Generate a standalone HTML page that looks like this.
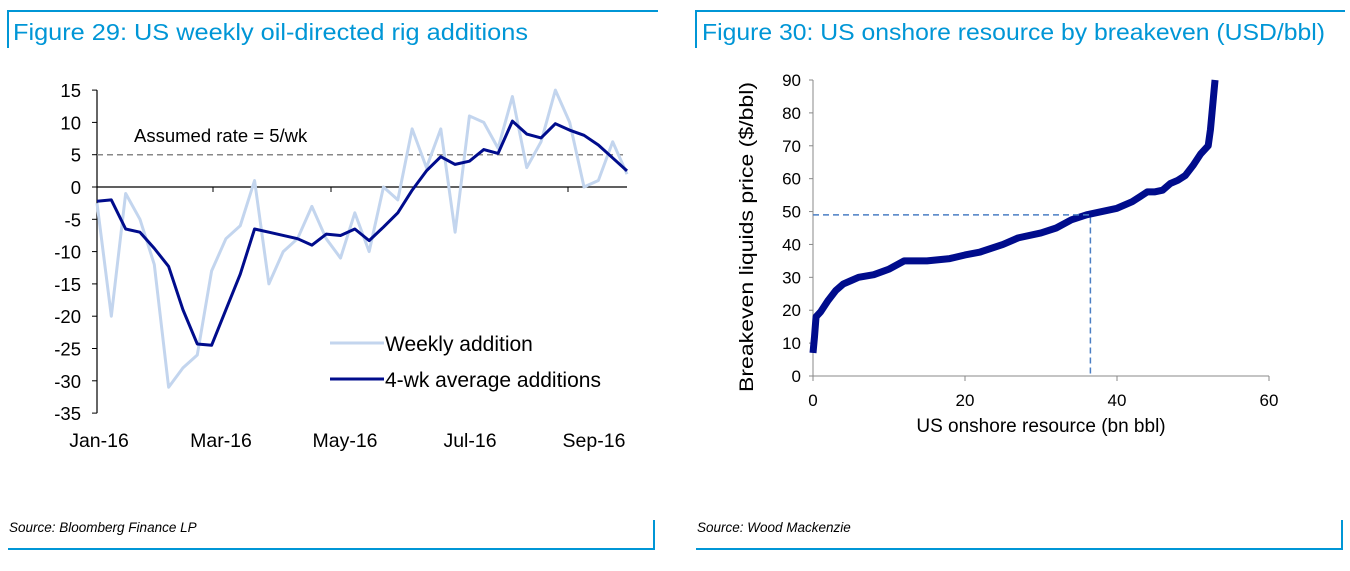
<!DOCTYPE html>
<html><head><meta charset="utf-8"><style>
body{margin:0;width:1350px;height:566px;background:#fff;overflow:hidden;font-family:"Liberation Sans",Arial,sans-serif}
svg text{font-family:"Liberation Sans",Arial,sans-serif}
</style></head><body>
<svg id="s" width="1350" height="566" viewBox="0 0 1350 566">
<g stroke="#0096d6" stroke-width="2" fill="none">
<path d="M8,48 V11 H658"/><path d="M8,549 H654 V520"/></g>
<text x="13" y="40" font-size="23" textLength="515" lengthAdjust="spacingAndGlyphs" fill="#0096d6">Figure 29: US weekly oil-directed rig additions</text>
<text x="9" y="532" font-size="13.5" font-style="italic" fill="#000">Source: Bloomberg Finance LP</text>
<g stroke="#0096d6" stroke-width="2" fill="none">
<path d="M696,48 V11 H1345"/><path d="M696,549 H1342 V520"/></g>
<text x="702" y="40" font-size="23" textLength="623" lengthAdjust="spacingAndGlyphs" fill="#0096d6">Figure 30: US onshore resource by breakeven (USD/bbl)</text>
<text x="697" y="532" font-size="13.5" font-style="italic" fill="#000">Source: Wood Mackenzie</text>
<g id="left"></g><g id="right"></g>
</svg>
<script>
const weekly=[-2.5,-20,-1,-5,-12,-31,-28,-26,-13,-8,-6,1,-15,-10,-8,-3,-8,-11,-4,-10,0,-2,9,3,9,-7,11,10,6,14,3,7,15,10,0,1,7,2];
const avg4=[-2.2,-2,-6.5,-7,-9.5,-12.3,-19,-24.3,-24.5,-19,-13.5,-6.5,-7,-7.5,-8,-9,-7.3,-7.5,-6.5,-8.3,-6.2,-4,-0.5,2.5,4.7,3.5,4,5.8,5.2,10.2,8.2,7.6,9.8,8.8,8,6.5,4.5,2.5];
const leftYTicks=[15,10,5,0,-5,-10,-15,-20,-25,-30,-35];
const leftXLabels=["Jan-16","Mar-16","May-16","Jul-16","Sep-16"];
const assumedRate=5;
const resX=[0,0.2,0.4,1,2,3,4,5,6,8,10,12,15,18,20,22,25,27,30,32,34,36,38,40,42,43,44,45,46,47,48,49,50,51,52,52.3,52.5,52.7,52.9];
const resY=[7,12,18,19.5,23,26,28,29,30,30.8,32.5,35,35,35.7,36.8,37.7,40,42,43.5,45,47.5,49,50,51,53,54.5,56,56,56.5,58.5,59.5,61,64,67.5,70,75,80,85,90];
const rightYTicks=[0,10,20,30,40,50,60,70,80,90];
const rightXTicks=[0,20,40,60];
const markerX=36.5, markerY=49;
const NS="http://www.w3.org/2000/svg";
function mk(p,t,a,txt){const e=document.createElementNS(NS,t);for(const k in a)e.setAttribute(k,a[k]);if(txt!==undefined)e.textContent=txt;p.appendChild(e);return e;}
const L=document.getElementById('left');
const lx0=97,lx1=627;
const ly=v=>187-(v*6.46);
const lxi=i=>lx0+i*(lx1-lx0)/(weekly.length-1);
let ax=mk(L,'line',{x1:lx0,y1:ly(15),x2:lx0,y2:ly(-35),stroke:'#000','stroke-width':1.2});


leftYTicks.forEach(v=>{
 const t=mk(L,'line',{x1:lx0-5,y1:ly(v),x2:lx0,y2:ly(v),stroke:'#000'});
 
 
 const l=mk(L,'text',{x:lx0-16,y:ly(v)+7,'font-size':18.5,'text-anchor':'end'},String(v));
 
 
});
let zx=mk(L,'line',{x1:lx0,y1:ly(0),x2:lx1,y2:ly(0),stroke:'#000','stroke-width':1.2});


[213,331,449,568].forEach(x=>{const t=mk(L,'line',{x1:x,y1:ly(0),x2:x,y2:ly(0)+5,stroke:'#000'});
 
 });
const lblX=[99,221,345,470,594];
leftXLabels.forEach((s,i)=>{const l=mk(L,'text',{x:lblX[i],y:447,'font-size':19.5,'text-anchor':'middle'},s);
 
 });
let ar=mk(L,'line',{x1:lx0,y1:ly(assumedRate),x2:lx1,y2:ly(assumedRate),stroke:'#888','stroke-width':1.5,'stroke-dasharray':'6,4'});


let at=mk(L,'text',{x:134,y:142,'font-size':18.5},'Assumed rate = 5/wk');


let wl=mk(L,'polyline',{points:weekly.map((v,i)=>lxi(i)+','+ly(v)).join(' '),fill:'none',stroke:'#c3d5ee','stroke-width':3,'stroke-linejoin':'round'});


let al=mk(L,'polyline',{points:avg4.map((v,i)=>lxi(i)+','+ly(v)).join(' '),fill:'none',stroke:'#000c8c','stroke-width':3,'stroke-linejoin':'round'});


let g1=mk(L,'g',{});


mk(g1,'line',{x1:330,y1:343,x2:384,y2:343,stroke:'#c3d5ee','stroke-width':3});
mk(g1,'text',{x:385,y:351,'font-size':21},'Weekly addition');
let g2=mk(L,'g',{});


mk(g2,'line',{x1:330,y1:379,x2:384,y2:379,stroke:'#000c8c','stroke-width':3});
mk(g2,'text',{x:385,y:387,'font-size':21},'4-wk average additions');
const R=document.getElementById('right');
const rx=v=>813+v*(1269-813)/60;
const ry=v=>376-v*(376-80)/90;
let ry1=mk(R,'line',{x1:rx(0),y1:ry(90),x2:rx(0),y2:ry(0),stroke:'#888'});


let rx1=mk(R,'line',{x1:rx(0),y1:ry(0),x2:rx(60),y2:ry(0),stroke:'#888'});


rightYTicks.forEach(v=>{
 const t=mk(R,'line',{x1:rx(0)-4,y1:ry(v),x2:rx(0),y2:ry(v),stroke:'#888'});
 
 
 const l=mk(R,'text',{x:rx(0)-12,y:ry(v)+6,'font-size':17,'text-anchor':'end'},String(v));
 
 
});
rightXTicks.forEach(v=>{
 const t=mk(R,'line',{x1:rx(v),y1:ry(0),x2:rx(v),y2:ry(0)+5,stroke:'#888'});
 
 
 const l=mk(R,'text',{x:rx(v),y:ry(0)+30,'font-size':17,'text-anchor':'middle'},String(v));
 
 
});
let xt=mk(R,'text',{x:1041,y:432,'font-size':19,'text-anchor':'middle'},'US onshore resource (bn bbl)');


let yt=mk(R,'text',{x:0,y:0,'font-size':19,'text-anchor':'middle',textLength:310,lengthAdjust:'spacingAndGlyphs',transform:'translate(753,237) rotate(-90)'},'Breakeven liquids price ($/bbl)');


let cv=mk(R,'polyline',{points:resX.map((v,i)=>rx(v)+','+ry(resY[i])).join(' '),fill:'none',stroke:'#000c8c','stroke-width':7,'stroke-linejoin':'round'});


let dh=mk(R,'polyline',{points:`${rx(0)},${ry(markerY)} ${rx(markerX)},${ry(markerY)} ${rx(markerX)},${ry(0)}`,fill:'none',stroke:'#4a7ec4','stroke-width':1.5,'stroke-dasharray':'6,4'});


</script>
</body></html>
